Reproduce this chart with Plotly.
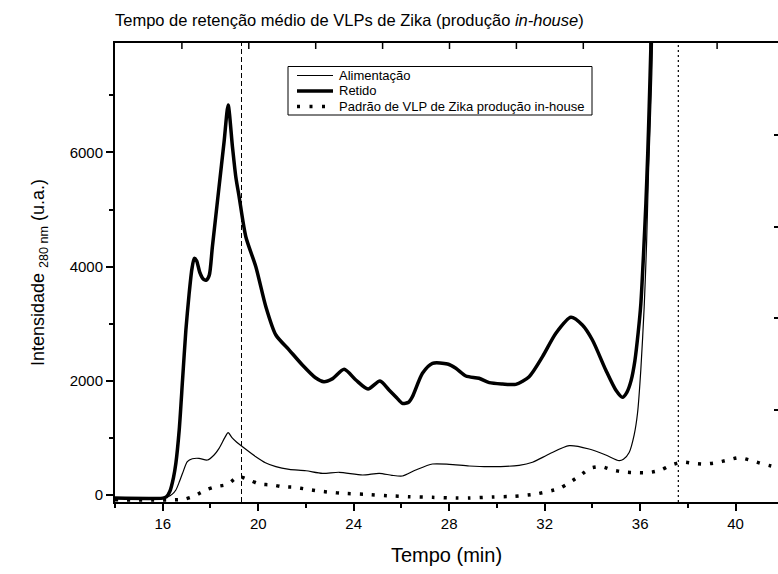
import plotly.graph_objects as go

# Tempo (min) e intensidade a 280 nm (u.a.) – Alimentação
t_alimentacao = [14.0, 16.0, 16.2, 16.4, 16.55, 16.7, 16.83, 17.03, 17.24, 17.52, 17.87,
                 18.15, 18.36, 18.6, 18.74, 18.9, 19.1, 19.34, 19.9, 20.3, 20.74, 21.3,
                 22.0, 22.69, 23.39, 24.37, 25.07, 25.6, 26.04, 26.6, 27.3, 28.0, 28.84,
                 29.68, 30.93, 31.49, 32.19, 33.03, 33.86, 34.56, 35.12, 35.3, 35.54,
                 35.75, 35.89, 36.03, 36.17, 36.27, 36.35, 36.43, 36.49, 36.6]
i_alimentacao = [-60, -60, -40, 10, 82, 230, 375, 579, 630, 638, 608,
                 696, 812, 1000, 1087, 1000, 920, 842, 666, 560, 491, 445,
                 420, 375, 393, 345, 375, 340, 328, 433, 538, 533, 503,
                 491, 515, 568, 713, 859, 801, 696, 596, 620, 740,
                 1050, 1427, 2200, 3297, 4400, 5634, 6600, 7387, 9500]

# Retido
t_retido = [14.0, 16.0, 16.15, 16.3, 16.45, 16.55, 16.69, 16.83, 16.97, 17.1, 17.22, 17.32,
            17.42, 17.55, 17.7, 17.83, 17.95, 18.08, 18.36, 18.57, 18.74, 18.92, 19.06,
            19.2, 19.48, 19.9, 20.32, 20.74, 21.3, 21.85, 22.4, 22.75, 23.1, 23.6, 24.09,
            24.6, 25.1, 25.48, 25.8, 26.04, 26.3, 26.46, 26.88, 27.3, 27.93, 28.28,
            28.7, 29.25, 29.68, 30.23, 30.79, 31.35, 31.91, 32.47, 33.1, 33.58, 34.0,
            34.56, 34.98, 35.26, 35.45, 35.62, 35.78, 35.92, 36.03, 36.14, 36.24, 36.32,
            36.38, 36.45, 36.55]
i_retido = [-60, -60, -40, 60, 300, 550, 1134, 2011, 2888, 3500, 3950, 4144,
            4100, 3900, 3780, 3764, 3850, 4348, 5400, 6188, 6832, 6101, 5575,
            5224, 4523, 3997, 3296, 2800, 2536, 2274, 2050, 1981, 2030, 2198, 2011,
            1853, 1993, 1836, 1700, 1602, 1620, 1718, 2128, 2303, 2291, 2216,
            2081, 2041, 1964, 1941, 1935, 2069, 2420, 2830, 3110, 2975, 2712,
            2186, 1836, 1707, 1800, 2000, 2350, 2850, 3350, 4200, 5100, 6000,
            6803, 7854, 9500]

# Padrão de VLP de Zika (produção in-house)
t_padrao = [14.0, 16.5, 16.9, 17.32, 17.8, 18.22, 18.71, 19.17, 19.62, 20.04, 20.6, 21.0,
            21.5, 22.06, 22.55, 23.04, 23.53, 24.44, 25.41, 26.32, 27.3, 28.28, 28.84,
            29.81, 30.72, 31.63, 32.58, 33.03, 33.47, 33.91, 34.38, 34.84, 35.33, 35.82,
            36.35, 36.87, 37.31, 37.77, 38.26, 38.72, 39.19, 39.68, 40.14, 40.59, 41.05,
            41.49, 42.0]
i_padrao = [-90, -90, -80, -23, 82, 140, 182, 316, 258, 188, 170, 140,
            130, 95, 65, 42, 24, 7, -17, -35, -46, -58, -58,
            -40, -28, 12, 105, 210, 333, 463, 491, 433, 398, 386,
            386, 433, 521, 573, 550, 538, 561, 608, 649, 608, 550,
            503, 450]

# Tempos de retenção médios marcados
t_medio_vlp = 19.3
t_medio_final = 37.6

x_ticks = [16, 20, 24, 28, 32, 36, 40]
y_ticks = [0, 2000, 4000, 6000]

FONT = "Liberation Sans, Arial, sans-serif"

# Geometria da área de plotagem (px)
W, H = 778, 574
L, R, T, B = 115, 0, 43, 72
PW, PH = W - L - R, H - T - B

# divisões da moldura superior (10 intervalos ao longo da largura total do quadro)
TOP_STEP_PX = 66.9
TOP_TICK_LEN = 6


def px_x(p):
    return (p - L) / PW


def px_y(p):
    return (H - B - p) / PH


series = [
    dict(name="Alimentação", x=t_alimentacao, y=i_alimentacao,
         line=dict(color="black", width=1.2)),
    dict(name="Retido", x=t_retido, y=i_retido,
         line=dict(color="black", width=3.5)),
    dict(name="Padrão de VLP de Zika produção in-house", x=t_padrao, y=i_padrao,
         line=dict(color="black", width=3.5, dash="3px,9px")),
]

fig = go.Figure()
for s in series:
    fig.add_trace(go.Scatter(
        x=s["x"], y=s["y"], mode="lines", name=s["name"], showlegend=False,
        line=dict(shape="spline", smoothing=0.7, **s["line"]),
    ))

# eixo de moldura à direita, só com marcas de escala
fig.add_trace(go.Scatter(x=[None], y=[None], xaxis="x", yaxis="y2", showlegend=False,
                         hoverinfo="skip", mode="lines"))

# linhas verticais dos tempos de retenção médios (por baixo da legenda)
shapes = [
    dict(type="line", xref="x", yref="paper", x0=t_medio_vlp, x1=t_medio_vlp, y0=0, y1=1,
         line=dict(color="black", width=1, dash="5px,3px"), layer="above"),
    dict(type="line", xref="x", yref="paper", x0=t_medio_final, x1=t_medio_final, y0=0, y1=1,
         line=dict(color="black", width=1.2, dash="2px,3px"), layer="above"),
]

# marcas da moldura superior
k = 1
while L + k * TOP_STEP_PX < W:
    xp = px_x(L + k * TOP_STEP_PX)
    shapes.append(dict(type="line", xref="paper", yref="paper",
                       x0=xp, x1=xp, y0=1, y1=1 - TOP_TICK_LEN / PH,
                       line=dict(color="black", width=1.5), layer="above"))
    k += 1

# legenda desenhada dentro da área do gráfico
leg_left, leg_right, leg_top, leg_bottom = 288, 592, 66.5, 115
row_y = [75.5, 91, 106.5]
shapes.append(dict(type="rect", xref="paper", yref="paper",
                   x0=px_x(leg_left), x1=px_x(leg_right),
                   y0=px_y(leg_bottom), y1=px_y(leg_top),
                   line=dict(color="black", width=1), fillcolor="white", layer="above"))
annotations = []
for s, ry in zip(series, row_y):
    ln = dict(color=s["line"]["color"], width=s["line"]["width"])
    if "dash" in s["line"]:
        ln["dash"] = "3px,9.5px"
    shapes.append(dict(type="line", xref="paper", yref="paper",
                       x0=px_x(297), x1=px_x(333), y0=px_y(ry), y1=px_y(ry),
                       line=ln, layer="above"))
    annotations.append(dict(text=s["name"], xref="paper", yref="paper",
                            x=px_x(337), y=px_y(ry), xanchor="left", yanchor="middle",
                            showarrow=False,
                            font=dict(size=13, family=FONT, color="black")))

fig.update_layout(
    width=W, height=H,
    margin=dict(l=L, r=R, t=T, b=B),
    paper_bgcolor="white", plot_bgcolor="white",
    font=dict(family=FONT, color="black"),
    showlegend=False,
    shapes=shapes,
    annotations=annotations,
    title=dict(
        text="Tempo de retenção médio de VLPs de Zika (produção <i>in-house</i>)",
        font=dict(size=16.5, family=FONT, color="black"),
        x=0, xref="paper", xanchor="left",
        y=1 - 20 / H, yref="container", yanchor="middle",
    ),
    xaxis=dict(
        range=[14, 14 + PW / 23.87],
        tickvals=x_ticks, ticks="outside", ticklen=7, tickwidth=1.5, tickcolor="black",
        minor=dict(dtick=2, tick0=16, ticks="outside", ticklen=4, tickwidth=1.5,
                   tickcolor="black"),
        showline=True, linewidth=2, linecolor="black", mirror=True,
        showgrid=False, zeroline=False,
        tickfont=dict(size=15, family=FONT, color="black"),
        title=dict(text="Tempo (min)", font=dict(size=20, family=FONT, color="black"),
                   standoff=17),
    ),
    yaxis=dict(
        range=[-128, 7919],
        tickvals=y_ticks, ticks="outside", ticklen=7, tickwidth=1.5, tickcolor="black",
        minor=dict(dtick=1000, tick0=0, ticks="outside", ticklen=4, tickwidth=1.5,
                   tickcolor="black"),
        showline=True, linewidth=2, linecolor="black", mirror=False,
        showgrid=False, zeroline=False,
        tickfont=dict(size=15, family=FONT, color="black"),
        title=dict(text="Intensidade <sub>280 nm</sub> (u.a.)",
                   font=dict(size=18, family=FONT, color="black"), standoff=20),
    ),
    yaxis2=dict(
        type="linear", overlaying="y", side="right", anchor="x",
        range=[0, 5], tickmode="linear", dtick=1, tick0=0,
        ticks="inside", ticklen=4, tickwidth=1.5, tickcolor="black",
        showticklabels=False, showline=False, showgrid=False, zeroline=False,
    ),
)

fig.write_html("out.html")
